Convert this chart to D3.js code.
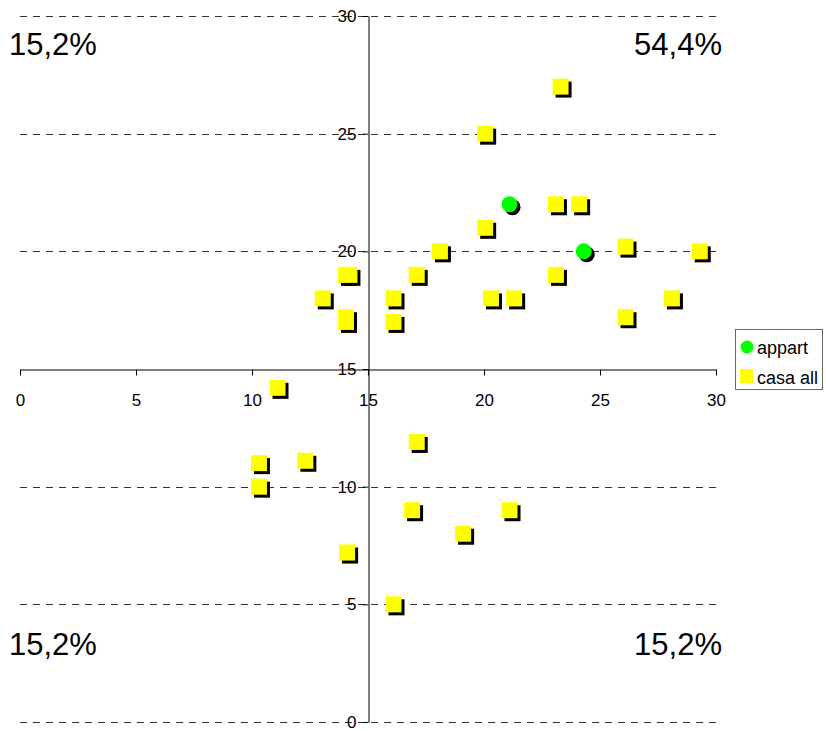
<!DOCTYPE html>
<html>
<head>
<meta charset="utf-8">
<script src="https://cdn.jsdelivr.net/npm/d3@7/dist/d3.min.js"></script>
<style>
  body { margin: 0; background: #fff; }
  svg { display: block; font-family: "Liberation Sans", Arial, sans-serif; }
  .axis path, .axis line { stroke: #000; }
  .axis text { font-size: 17px; fill: #000; }
  .grid line { stroke: #333; stroke-dasharray: 7,6; }
</style>
</head>
<body>
<div id="chart"></div>
<script>
// series: appart (green circles)
var appartX = [21.1, 24.3];
var appartY = [22, 20];

// series: casa all (yellow squares)
var casaX = [23.3, 20.05, 23.1, 24.1, 20.05, 18.1, 26.1, 29.3, 14.05, 14.2, 17.1, 23.1,
             13.05, 16.1, 20.3, 21.3, 28.1, 14.05, 14.05, 16.1, 26.1, 11.1, 10.3, 12.3,
             10.3, 17.1, 16.9, 21.1, 19.1, 14.1, 16.1];
var casaY = [27, 25, 22, 22, 21, 20, 20.2, 20, 19, 19, 19, 19,
             18, 18, 18, 18, 18, 17.2, 17, 17, 17.2, 14.2, 11, 11.1,
             10, 11.9, 9, 9, 8, 7.2, 5];

var tickValues = [0, 5, 10, 15, 20, 25, 30];
var gridValues = [0, 5, 10, 20, 25, 30];
var quadLabels = ["15,2%", "54,4%", "15,2%", "15,2%"];
var seriesNames = ["appart", "casa all"];

var W = 826, H = 731;
var svg = d3.select("#chart").append("svg")
  .attr("width", W)
  .attr("height", H);

var x = d3.scaleLinear().domain([0, 30]).range([20, 716]);
var y = d3.scaleLinear().domain([0, 30]).range([722, 16]);

// dashed gridlines
svg.append("g")
  .attr("class", "grid")
  .selectAll("line")
  .data(gridValues)
  .enter().append("line")
  .attr("x1", x(0))
  .attr("x2", x(30) + 2)
  .attr("y1", function (d) { return Math.round(y(d)) + 0.5; })
  .attr("y2", function (d) { return Math.round(y(d)) + 0.5; });

// quadrant percentages
var quad = svg.append("g").style("font-size", "31px").style("fill", "#000");
quad.append("text").attr("x", 9).attr("y", 55).text(quadLabels[0]);
quad.append("text").attr("x", 722).attr("y", 55).attr("text-anchor", "end").text(quadLabels[1]);
quad.append("text").attr("x", 9).attr("y", 655).text(quadLabels[2]);
quad.append("text").attr("x", 722).attr("y", 655).attr("text-anchor", "end").text(quadLabels[3]);

// axes crossing at (15, 15)
var xAxis = d3.axisBottom(x).tickValues(tickValues).tickSizeInner(6).tickSizeOuter(0).tickPadding(18);
var yAxis = d3.axisLeft(y).tickValues(tickValues).tickSizeInner(6).tickSizeOuter(0).tickPadding(6);

svg.append("g")
  .attr("class", "axis x")
  .attr("transform", "translate(0," + (Math.round(y(15)) + 0.5) + ")")
  .call(xAxis);

svg.append("g")
  .attr("class", "axis y")
  .attr("transform", "translate(" + (Math.round(x(15)) + 0.5) + ",0)")
  .call(yAxis);

// markers: appart
var sq = 16, r = 8, off = 3;
var appart = d3.range(appartX.length);
var gA = svg.append("g");
gA.selectAll("circle.shadow")
  .data(appart).enter().append("circle")
  .attr("cx", function (i) { return x(appartX[i]) + off; })
  .attr("cy", function (i) { return y(appartY[i]) + off; })
  .attr("r", r)
  .style("fill", "#000");
gA.selectAll("circle.dot")
  .data(appart).enter().append("circle")
  .attr("cx", function (i) { return x(appartX[i]); })
  .attr("cy", function (i) { return y(appartY[i]); })
  .attr("r", r)
  .style("fill", "#00ff00");

// markers: casa all
var casa = d3.range(casaX.length);
var gC = svg.append("g");
casa.forEach(function (i) {
  gC.append("rect")
    .attr("x", x(casaX[i]) - sq / 2 + off)
    .attr("y", y(casaY[i]) - sq / 2 + off)
    .attr("width", sq)
    .attr("height", sq)
    .style("fill", "#000");
  gC.append("rect")
    .attr("x", x(casaX[i]) - sq / 2)
    .attr("y", y(casaY[i]) - sq / 2)
    .attr("width", sq)
    .attr("height", sq)
    .style("fill", "#ffff00");
});

// legend
var legend = svg.append("g");
legend.append("rect")
  .attr("x", 735.5).attr("y", 329.5)
  .attr("width", 87).attr("height", 60)
  .style("fill", "#fff")
  .style("stroke", "#666");
legend.append("circle")
  .attr("cx", 747).attr("cy", 347).attr("r", 6.5)
  .style("fill", "#00ff00");
legend.append("rect")
  .attr("x", 740).attr("y", 369).attr("width", 13).attr("height", 14)
  .style("fill", "#ffff00");
legend.selectAll("text")
  .data(seriesNames).enter().append("text")
  .attr("x", 757)
  .attr("y", function (d, i) { return 354 + i * 30; })
  .style("font-size", "18px")
  .text(function (d) { return d; });
</script>
</body>
</html>
